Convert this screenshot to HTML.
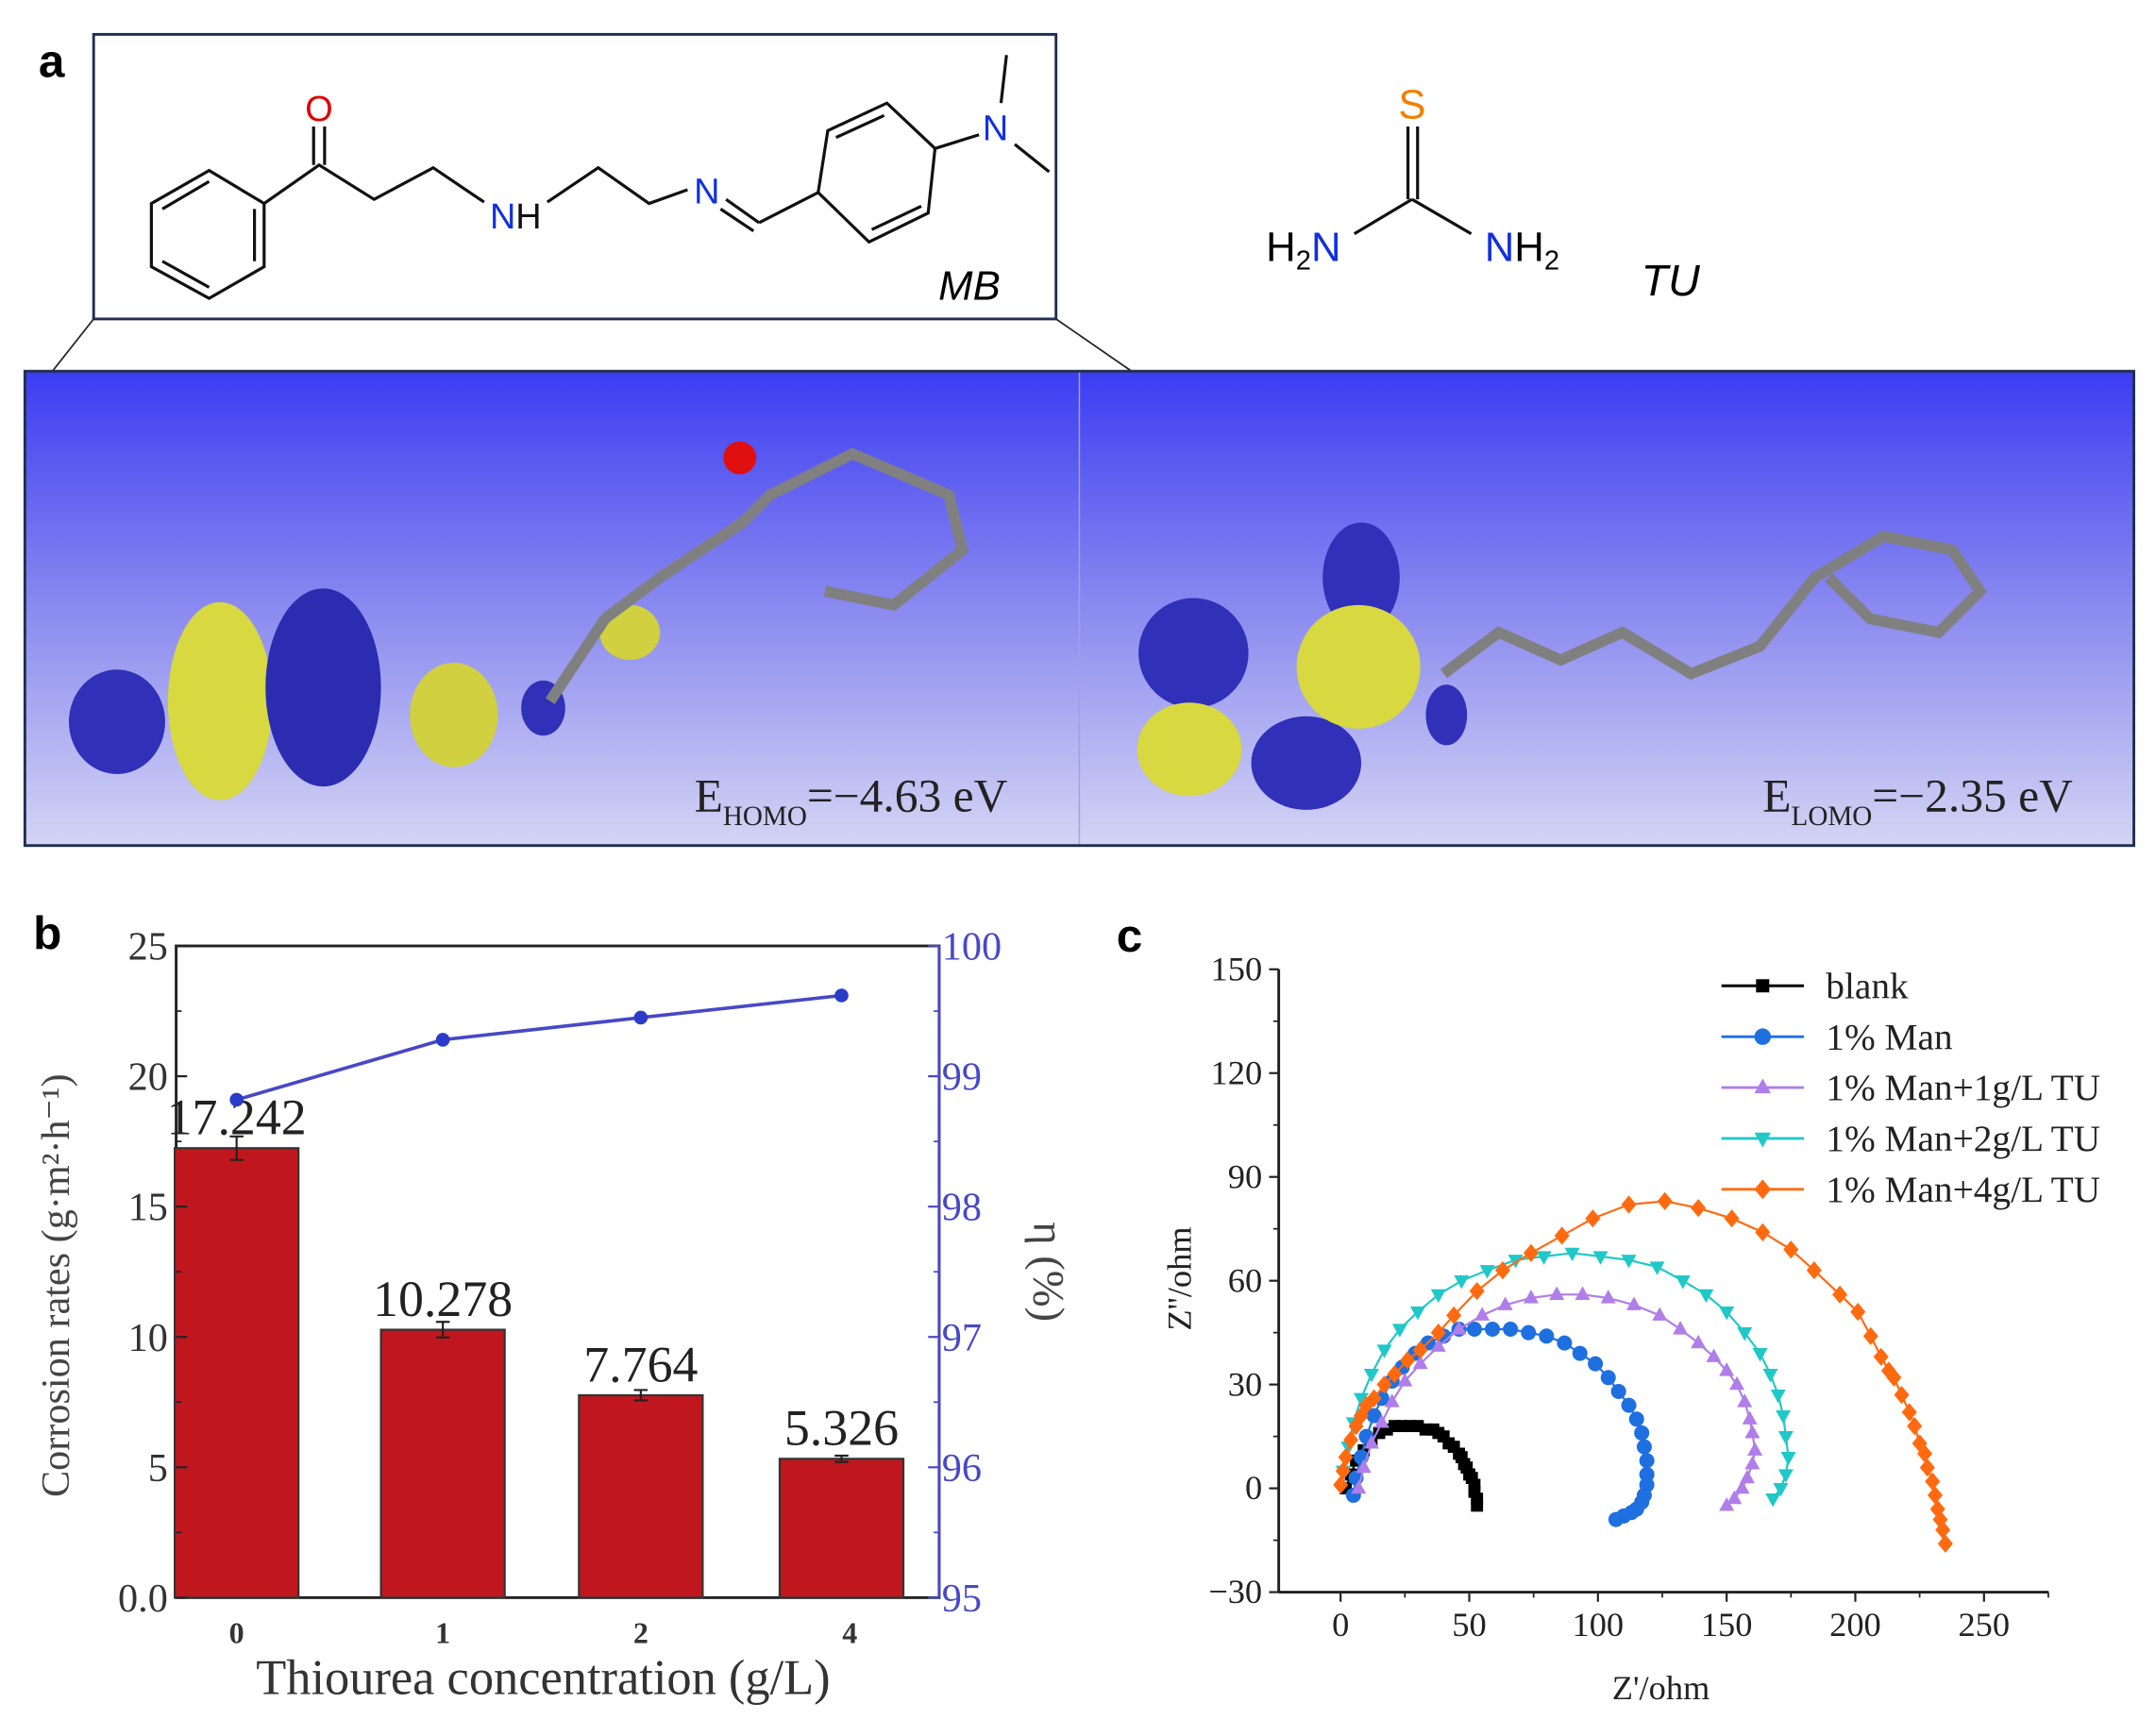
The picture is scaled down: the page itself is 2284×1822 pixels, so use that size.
<!DOCTYPE html>
<html><head><meta charset="utf-8"><style>
html,body{margin:0;padding:0;background:#fff}
svg{display:block}
.serif{font-family:"Liberation Serif",serif}
.sans{font-family:"Liberation Sans",sans-serif}
</style></head><body>
<svg id="fig" width="2284" height="1822" viewBox="0 0 1568 1251" xmlns="http://www.w3.org/2000/svg">
<defs>
<linearGradient id="bg" x1="0" y1="0" x2="0" y2="1"><stop offset="0" stop-color="#3c3cf2"/><stop offset="0.5" stop-color="#8a8af0"/><stop offset="1" stop-color="#d4d4f4"/></linearGradient>
</defs>
<!-- Panel a -->
<text x="28" y="56" class="sans" font-size="34" font-weight="bold">a</text>
<rect x="68" y="25" width="700" height="207" fill="#fff" stroke="#1f2f4f" stroke-width="2"/>
<g stroke="#111" stroke-width="2.2" fill="none">
<polygon points="110,148 152,124 192,148 192,194 152,217 110,194"/>
<line x1="118" y1="152" x2="152" y2="132"/><line x1="118" y1="190" x2="152" y2="209"/><line x1="185" y1="152" x2="185" y2="190"/>
<polyline points="192,148 232,120 272,145 315,122 352,147"/>
<line x1="228" y1="120" x2="228" y2="92"/><line x1="236" y1="120" x2="236" y2="92"/>
<polyline points="398,147 435,122 472,148 500,138"/>
<line x1="528" y1="145" x2="552" y2="162"/><line x1="524" y1="152" x2="548" y2="168"/>
<polyline points="552,162 595,140"/>
<polygon points="595,140 602,95 645,75 680,108 675,155 632,176"/>
<line x1="608" y1="100" x2="643" y2="84"/><line x1="670" y1="150" x2="634" y2="167"/>
<line x1="680" y1="108" x2="712" y2="98"/><line x1="728" y1="75" x2="732" y2="40"/><line x1="738" y1="105" x2="763" y2="125"/>
</g>
<text x="232" y="88" class="sans" font-size="26" fill="#e00000" text-anchor="middle">O</text>
<text x="375" y="166" class="sans" font-size="26" fill="#1030e0" text-anchor="middle">N<tspan fill="#111">H</tspan></text>
<text x="514" y="148" class="sans" font-size="26" fill="#1030e0" text-anchor="middle">N</text>
<text x="724" y="102" class="sans" font-size="26" fill="#1030e0" text-anchor="middle">N</text>
<text x="705" y="218" class="sans" font-size="30" font-style="italic" text-anchor="middle">MB</text>
<g stroke="#111" stroke-width="2.2">
<line x1="1024" y1="92" x2="1024" y2="145"/><line x1="1031" y1="92" x2="1031" y2="145"/>
<line x1="1027" y1="145" x2="985" y2="170"/><line x1="1027" y1="145" x2="1070" y2="170"/>
</g>
<text x="1027" y="86" class="sans" font-size="30" fill="#f08000" text-anchor="middle">S</text>
<text x="948" y="190" class="sans" font-size="30" text-anchor="middle">H<tspan font-size="20" dy="6">2</tspan><tspan fill="#1030e0" dy="-6">N</tspan></text>
<text x="1107" y="190" class="sans" font-size="30" text-anchor="middle"><tspan fill="#1030e0">N</tspan>H<tspan font-size="20" dy="6">2</tspan></text>
<text x="1215" y="215" class="sans" font-size="32" font-style="italic" text-anchor="middle">TU</text>
<line x1="68" y1="232" x2="38" y2="270" stroke="#222" stroke-width="1.2"/>
<line x1="768" y1="232" x2="823" y2="270" stroke="#222" stroke-width="1.2"/>
<rect x="18" y="270" width="1534" height="345" fill="url(#bg)" stroke="#1f2f4f" stroke-width="2"/>
<line x1="785" y1="271" x2="785" y2="614" stroke="#a0a0e8" stroke-width="1"/>
<g>
<ellipse cx="85" cy="525" rx="35" ry="38" fill="#3030b8"/>
<ellipse cx="160" cy="510" rx="38" ry="72" fill="#d8d840"/>
<ellipse cx="235" cy="500" rx="42" ry="72" fill="#2c2cb0"/>
<ellipse cx="330" cy="520" rx="32" ry="38" fill="#d0d040"/>
<ellipse cx="395" cy="515" rx="16" ry="20" fill="#3030b8"/>
<ellipse cx="458" cy="460" rx="22" ry="20" fill="#d0d040"/>
<polyline points="400,510 440,450 480,420 540,380 560,360 620,330 690,360 700,400 650,440 600,430" fill="none" stroke="#808080" stroke-width="8"/>
<circle cx="538" cy="333" r="12" fill="#e01010"/>
</g>
<g>
<ellipse cx="868" cy="475" rx="40" ry="40" fill="#3030b8"/>
<ellipse cx="865" cy="545" rx="38" ry="34" fill="#d8d840"/>
<ellipse cx="950" cy="555" rx="40" ry="34" fill="#3030b8"/>
<ellipse cx="990" cy="420" rx="28" ry="40" fill="#3030b8"/>
<ellipse cx="988" cy="485" rx="45" ry="45" fill="#d8d840"/>
<ellipse cx="1052" cy="520" rx="15" ry="22" fill="#3030b8"/>
<polyline points="1050,490 1090,460 1135,480 1180,460 1230,490 1280,470 1320,420 1370,390 1420,400 1440,430 1410,460 1360,450 1330,420" fill="none" stroke="#808080" stroke-width="8"/>
</g>
<text x="505" y="590" class="serif" font-size="34" fill="#222">E<tspan font-size="20" dy="10">HOMO</tspan><tspan dy="-10">=−4.63 eV</tspan></text>
<text x="1282" y="590" class="serif" font-size="34" fill="#222">E<tspan font-size="20" dy="10">LOMO</tspan><tspan dy="-10">=−2.35 eV</tspan></text>

<!-- Panel b -->
<text x="24" y="690" class="sans" font-size="34" font-weight="bold">b</text>
<g id="chartB"></g>
<!-- Panel c -->
<text x="812" y="692" class="sans" font-size="34" font-weight="bold">c</text>
<g id="chartC"></g>
</svg>
<script>
const bCategories = ["0","1","2","4"];
const bRates = [17.242, 10.278, 7.764, 5.326];
const bErrors = [0.45, 0.3, 0.2, 0.12];
const bEta = [98.82, 99.28, 99.45, 99.62];
const bLeftTicks = [0.0, 5, 10, 15, 20, 25];
const bLeftTickLabels = ["0.0","5","10","15","20","25"];
const bRightTicks = [95, 96, 97, 98, 99, 100];

const cTicksX = [0, 50, 100, 150, 200, 250];
const cTicksY = [-30, 0, 30, 60, 90, 120, 150];
const cNames = ["blank","1% Man","1% Man+1g/L TU","1% Man+2g/L TU","1% Man+4g/L TU"];
const blankX = [2,4,6,9,12,15,18,21,24,27,30,33,36,38,40,42,44,46,47,48,49,50,51,52,52,53,53];
const blankY = [0,4,8,11,14,16,17,18,18,18,18,17,17,16,15,13,12,10,9,7,6,4,3,1,-1,-3,-5];
const manX = [5,6,8,10,13,16,20,24,29,34,40,46,52,59,66,73,80,87,93,99,104,108,112,115,117,118,119,119,119,118,117,115,113,110,107];
const manY = [-2,3,9,15,21,26,31,35,39,42,44,46,46,46,46,45,44,42,39,36,32,28,24,20,16,12,8,4,1,-2,-4,-6,-7,-8,-9];
const tu1X = [7,9,12,16,20,25,31,38,46,55,64,74,84,94,104,114,124,132,139,145,150,154,157,159,160,161,160,158,156,153,150];
const tu1Y = [0,6,13,19,25,31,36,41,46,50,53,55,56,56,55,53,50,46,42,38,34,30,25,20,16,11,7,3,0,-3,-5];
const tu2X = [1,3,5,8,12,17,23,30,38,47,57,68,79,90,101,112,123,133,142,150,157,163,167,170,172,173,174,173,171,168];
const tu2Y = [5,12,19,26,33,40,46,51,56,60,63,66,67,68,67,66,64,60,56,51,45,39,33,27,21,15,9,4,0,-3];
const tu4X = [0,1,2,4,6,8,10,13,17,21,26,31,38,44,53,63,74,86,98,112,126,139,152,164,175,184,194,201,206,210,213,215,218,221,223,225,227,228,230,231,232,233,234,235];
const tu4Y = [1,5,9,14,18,21,24,26,30,33,37,40,45,50,57,63,68,73,78,82,83,81,78,74,69,63,56,51,44,38,34,32,27,22,18,13,10,6,2,-2,-6,-9,-12,-16];
const cSeriesX = [blankX, manX, tu1X, tu2X, tu4X];
const cSeriesY = [blankY, manY, tu1Y, tu2Y, tu4Y];
const cColors = ["#000000","#1e6fe0","#b07ee8","#20c8c8","#ff6a10"];
const cMarkers = ["square","circle","tri-up","tri-down","diamond"];

const NS = "http://www.w3.org/2000/svg";
function mk(parent, tag, attrs, text){
  const e = document.createElementNS(NS, tag);
  for (const k in attrs) e.setAttribute(k, attrs[k]);
  if (text !== undefined) e.textContent = text;
  parent.appendChild(e); return e;
}
// ---- Chart B ----
const gB = document.getElementById("chartB");
const bL = 128, bR = 683, bT = 688, bB = 1162;
const yLeft = v => bB - v / 25 * (bB - bT);
const yRight = v => bB - (v - 95) / 5 * (bB - bT);
const bCenters = [172, 322, 466, 612];
const xB = i => bCenters[i];
const bw = 90;
mk(gB, "rect", {x:bL, y:bT, width:bR-bL, height:bB-bT, fill:"none", stroke:"#222", "stroke-width":2});
mk(gB, "line", {x1:bR, y1:bT, x2:bR, y2:bB, stroke:"#4848c8", "stroke-width":2});
bRates.forEach((v, i) => {
  const r = mk(gB, "rect", {x:xB(i)-bw/2, y:yLeft(v), width:bw, height:bB-yLeft(v), fill:"#c0171f", stroke:"#333", "stroke-width":1.5});
  
  
  const e = bErrors[i];
  mk(gB, "path", {d:`M${xB(i)},${yLeft(v+e)}V${yLeft(v-e)}M${xB(i)-5},${yLeft(v+e)}h10M${xB(i)-5},${yLeft(v-e)}h10`, stroke:"#222", "stroke-width":1.5, fill:"none"});
  const t = mk(gB, "text", {x:xB(i), y:yLeft(v)-10, "text-anchor":"middle", "font-size":37, class:"serif", fill:"#222"}, v.toFixed(3));
  
  
  mk(gB, "text", {x:xB(i)+ (i===3?6:0), y:1195, "text-anchor":"middle", "font-size":22, class:"serif", "font-weight":"bold", fill:"#333"}, bCategories[i]);
});
bLeftTicks.forEach((v, i) => {
  mk(gB, "line", {x1:bL, y1:yLeft(v), x2:bL+8, y2:yLeft(v), stroke:"#222", "stroke-width":1.5});
  if (i < bLeftTicks.length-1) mk(gB, "line", {x1:bL, y1:yLeft(v+2.5), x2:bL+4, y2:yLeft(v+2.5), stroke:"#222", "stroke-width":1.2});
  mk(gB, "text", {x:bL-6, y:yLeft(v)+10, "text-anchor":"end", "font-size":29, class:"serif", fill:"#333"}, bLeftTickLabels[i]);
});
bRightTicks.forEach((v, i) => {
  mk(gB, "line", {x1:bR, y1:yRight(v), x2:bR-8, y2:yRight(v), stroke:"#4848c8", "stroke-width":1.5});
  if (i < bRightTicks.length-1) mk(gB, "line", {x1:bR, y1:yRight(v+0.5), x2:bR-4, y2:yRight(v+0.5), stroke:"#4848c8", "stroke-width":1.2});
  mk(gB, "text", {x:bR+2, y:yRight(v)+10, "font-size":29, class:"serif", fill:"#4848c8"}, String(v));
});
const etaPts = bEta.map((v, i) => `${xB(i)},${yRight(v)}`).join(" ");
const etaLine = mk(gB, "polyline", {points:etaPts, fill:"none", stroke:"#4848c8", "stroke-width":2.5});


bEta.forEach((v, i) => {
  const c = mk(gB, "circle", {cx:xB(i), cy:yRight(v), r:5, fill:"#2a3cc8"});
  
  
});
const xt = mk(gB, "text", {x:395, y:1232, "text-anchor":"middle", "font-size":36, class:"serif", fill:"#333"}, "Thiourea concentration (g/L)");


const yt = mk(gB, "text", {x:0, y:0, transform:"translate(50,935) rotate(-90)", "text-anchor":"middle", "font-size":29, class:"serif", fill:"#444"}, "Corrosion rates (g·m²·h⁻¹)");


const yt2 = mk(gB, "text", {x:0, y:0, transform:"translate(752,925) rotate(90)", "text-anchor":"middle", "font-size":32, class:"serif", fill:"#444"}, "η (%)");



// ---- Chart C ----
const gC = document.getElementById("chartC");
const cL = 930, cR = 1490, cT = 705, cB = 1158;
const xC = v => 975 + v * 1.872;
const yC = v => cB - (v + 30) / 180 * (cB - cT);
mk(gC, "line", {x1:cL, y1:cT, x2:cL, y2:cB, stroke:"#222", "stroke-width":2});
mk(gC, "line", {x1:cL, y1:cB, x2:cR, y2:cB, stroke:"#222", "stroke-width":2});
cTicksY.forEach((v, i) => {
  mk(gC, "line", {x1:cL, y1:yC(v), x2:cL-7, y2:yC(v), stroke:"#222", "stroke-width":1.5});
  if (i < cTicksY.length-1) mk(gC, "line", {x1:cL, y1:yC(v+15), x2:cL-4, y2:yC(v+15), stroke:"#222", "stroke-width":1.2});
  mk(gC, "text", {x:cL-12, y:yC(v)+8, "text-anchor":"end", "font-size":25, class:"serif", fill:"#222"}, v < 0 ? "−" + Math.abs(v) : String(v));
});
cTicksX.forEach((v, i) => {
  mk(gC, "line", {x1:xC(v), y1:cB, x2:xC(v), y2:cB+7, stroke:"#222", "stroke-width":1.5});
  mk(gC, "line", {x1:xC(v+25), y1:cB, x2:xC(v+25), y2:cB+4, stroke:"#222", "stroke-width":1.2});
  mk(gC, "text", {x:xC(v), y:cB+32, "text-anchor":"middle", "font-size":25, class:"serif", fill:"#222"}, String(v));
});
function marker(g, type, x, y, color, s){
  if (type === "square") return mk(g, "rect", {x:x-s*0.8, y:y-s*0.8, width:s*1.6, height:s*1.6, fill:color});
  if (type === "circle") return mk(g, "circle", {cx:x, cy:y, r:s, fill:color});
  if (type === "tri-up") return mk(g, "polygon", {points:`${x},${y-s*1.1} ${x-s},${y+s*0.7} ${x+s},${y+s*0.7}`, fill:color});
  if (type === "tri-down") return mk(g, "polygon", {points:`${x},${y+s*1.1} ${x-s},${y-s*0.7} ${x+s},${y-s*0.7}`, fill:color});
  return mk(g, "polygon", {points:`${x},${y-s*1.2} ${x+s},${y} ${x},${y+s*1.2} ${x-s},${y}`, fill:color});
}
cSeriesX.forEach((xs, si) => {
  const g = mk(gC, "g", {});
  
  
  const ys = cSeriesY[si];
  mk(g, "polyline", {points:xs.map((v, j) => `${xC(v)},${yC(ys[j])}`).join(" "), fill:"none", stroke:cColors[si], "stroke-width":1.5});
  xs.forEach((v, j) => marker(g, cMarkers[si], xC(v), yC(ys[j]), cColors[si], 5.5));
  const ly = 717 + si * 37;
  const lg = mk(gC, "g", {});
  
  
  mk(lg, "line", {x1:1252, y1:ly, x2:1312, y2:ly, stroke:cColors[si], "stroke-width":2});
  marker(lg, cMarkers[si], 1282, ly, cColors[si], 6);
  mk(lg, "text", {x:1328, y:ly+9, "font-size":27, class:"serif", fill:"#222"}, cNames[si]);
});
const cxt = mk(gC, "text", {x:1208, y:1236, "text-anchor":"middle", "font-size":25, class:"serif", fill:"#222"}, "Z'/ohm");


const cyt = mk(gC, "text", {x:0, y:0, transform:"translate(866,930) rotate(-90)", "text-anchor":"middle", "font-size":25, class:"serif", fill:"#222"}, "Z''/ohm");


</script>
</body></html>
